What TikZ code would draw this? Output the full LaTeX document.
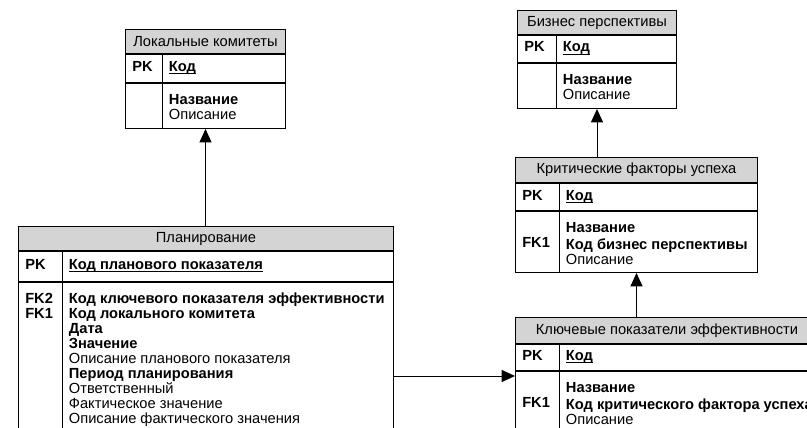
\documentclass[tikz,border=0pt]{standalone}
\usepackage{fontspec}
\setmainfont{Liberation Sans}
\usetikzlibrary{positioning, arrows.meta}

\newcommand{\pkey}[1]{\strut\underline{\smash{\textbf{#1}}}}

\begin{document}
\begin{tikzpicture}[
    x=0.75pt, y=-0.75pt,
    >={Triangle[length=10pt, width=9pt]},
    node distance=0pt, % rows stacked edge to edge
    % Styles for the table parts
    head/.style={draw=black, fill=black!17, rectangle, anchor=north west, inner sep=0pt, line width=0.75pt, font=\fontsize{11}{11.25}\selectfont},
    cell/.style={draw=black, fill=white, rectangle, inner sep=0pt, line width=0.75pt},
    txt/.style={inner sep=0pt, align=left, anchor=north west, font=\fontsize{11}{11.25}\selectfont},
    key/.style={inner sep=0pt, font=\fontsize{11}{11.25}\selectfont\bfseries},
    link/.style={->, line width=0.75pt}
]
    \useasboundingbox (0,0) rectangle (807,428);
    \clip (0,0) rectangle (807,428);

    % Local committees
    \node (lk) [head, minimum width=120pt, minimum height=18pt] at (125,29) {Локальные комитеты};
    \node (lk-pk) [cell, minimum width=120pt, minimum height=21pt, below=of lk] {};
    \node (lk-body) [cell, minimum width=120pt, minimum height=33.75pt, below=of lk-pk] {};
    \draw ([xshift=27.75pt]lk-pk.north west) -- ([xshift=27.75pt]lk-body.south west);
    \node (lk-pkl) [key, right=5.25pt of lk-pk.west] {\strut PK};
    \node (lk-pkf) [key, right=32.75pt of lk-pk.west] {\pkey{Код}};
    \node (lk-fld) [txt] at ([xshift=32.75pt, yshift=-8.25pt]lk-body.north west) {\strut\textbf{Название}\\Описание};

    % Business perspectives
    \node (bp) [head, minimum width=119.25pt, minimum height=18pt] at (517,10) {Бизнес перспективы};
    \node (bp-pk) [cell, minimum width=119.25pt, minimum height=20.25pt, below=of bp] {};
    \node (bp-body) [cell, minimum width=119.25pt, minimum height=33.75pt, below=of bp-pk] {};
    \draw ([xshift=29.25pt]bp-pk.north west) -- ([xshift=29.25pt]bp-body.south west);
    \node (bp-pkl) [key, right=5.25pt of bp-pk.west] {\strut PK};
    \node (bp-pkf) [key, right=34.25pt of bp-pk.west] {\pkey{Код}};
    \node (bp-fld) [txt] at ([xshift=34.25pt, yshift=-8.25pt]bp-body.north west) {\strut\textbf{Название}\\Описание};

    % Critical success factors
    \node (kf) [head, minimum width=181.5pt, minimum height=18.75pt] at (515,157) {Критические факторы успеха};
    \node (kf-pk) [cell, minimum width=181.5pt, minimum height=20.25pt, below=of kf] {};
    \node (kf-body) [cell, minimum width=181.5pt, minimum height=45.75pt, below=of kf-pk] {};
    \draw ([xshift=33pt]kf-pk.north west) -- ([xshift=33pt]kf-body.south west);
    \node (kf-pkl) [key, right=5.25pt of kf-pk.west] {\strut PK};
    \node (kf-pkf) [key, right=38pt of kf-pk.west] {\pkey{Код}};
    \node (kf-fkl) [txt, font=\fontsize{11}{11.25}\selectfont\bfseries] at ([xshift=5.25pt, yshift=-8.25pt]kf-body.north west) {\strut\\FK1};
    \node (kf-fld) [txt] at ([xshift=38pt, yshift=-8.25pt]kf-body.north west) {\strut\textbf{Название}\\\textbf{Код бизнес перспективы}\\Описание};

    % Key performance indicators
    \node (kp) [head, minimum width=227.25pt, minimum height=19.5pt] at (515,317) {Ключевые показатели эффективности};
    \node (kp-pk) [cell, minimum width=227.25pt, minimum height=19.5pt, below=of kp] {};
    \node (kp-body) [cell, minimum width=227.25pt, minimum height=46.5pt, below=of kp-pk] {};
    \draw ([xshift=33pt]kp-pk.north west) -- ([xshift=33pt]kp-body.south west);
    \node (kp-pkl) [key, right=5.25pt of kp-pk.west] {\strut PK};
    \node (kp-pkf) [key, right=38pt of kp-pk.west] {\pkey{Код}};
    \node (kp-fkl) [txt, font=\fontsize{11}{11.25}\selectfont\bfseries] at ([xshift=5.25pt, yshift=-8.25pt]kp-body.north west) {\strut\\FK1};
    \node (kp-fld) [txt] at ([xshift=38pt, yshift=-8.25pt]kp-body.north west) {\strut\textbf{Название}\\\textbf{Код критического фактора успеха}\\Описание};

    % Planning
    \node (plan) [head, minimum width=281.25pt, minimum height=18pt] at (18,226) {Планирование};
    \node (plan-pk) [cell, minimum width=281.25pt, minimum height=22.5pt, below=of plan] {};
    \node (plan-body) [cell, minimum width=281.25pt, minimum height=114pt, below=of plan-pk] {};
    \draw ([xshift=33pt]plan-pk.north west) -- ([xshift=33pt]plan-body.south west);
    \node (plan-pkl) [key, right=5.25pt of plan-pk.west] {\strut PK};
    \node (plan-pkf) [key, right=38pt of plan-pk.west] {\pkey{Код планового показателя}};
    \node (plan-fkl) [txt, font=\fontsize{11}{11.25}\selectfont\bfseries] at ([xshift=5.25pt, yshift=-8.25pt]plan-body.north west) {\strut FK2\\FK1};
    \node (plan-fld) [txt] at ([xshift=38pt, yshift=-8.25pt]plan-body.north west) {\strut\textbf{Код ключевого показателя эффективности}\\\textbf{Код локального комитета}\\\textbf{Дата}\\\textbf{Значение}\\Описание планового показателя\\\textbf{Период планирования}\\Ответственный\\Фактическое значение\\Описание фактического значения};

    % Connectors
    \draw [link] (plan.north -| lk-body.south) -- (lk-body.south);
    \draw [link] (kf.north -| bp-body.south) -- (bp-body.south);
    \draw [link] (kp.north -| kf-body.south) -- (kf-body.south);
    \coordinate (kp-in) at ([yshift=-3.75pt]kp-pk.south west);
    \draw [link] (plan-body.east |- kp-in) -- (kp-in);

\end{tikzpicture}
\end{document}
